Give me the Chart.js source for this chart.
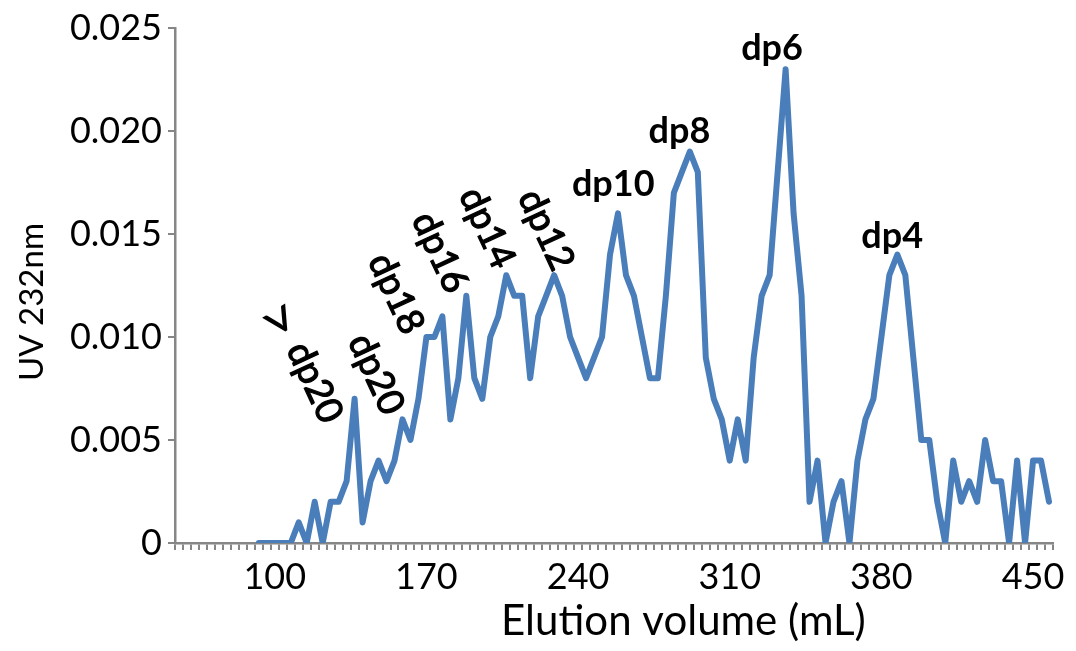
<!DOCTYPE html>
<html>
<head>
<meta charset="utf-8">
<script src="https://cdn.jsdelivr.net/npm/chart.js@4.4.1/dist/chart.umd.min.js"></script>
<style>
  html, body { margin: 0; padding: 0; background: #fff; }
  #wrap { width: 1076px; height: 651px; position: relative; }
</style>
</head>
<body>
<div id="wrap"><canvas id="uvChart"></canvas></div>
<script>
// x axis: 110 fractions, a label every 19 fractions
const fractionCount = 110;
const xTickText = ['100', '170', '240', '310', '380', '450'];
const xTickIndex = [12, 31, 50, 69, 88, 107];

// UV 232nm per fraction (first 10 fractions empty)
const uv232 = [
  null, null, null, null, null, null, null, null, null, null,
  0, 0, 0, 0, 0, 0.001, 0, 0.002, 0, 0.002,
  0.002, 0.003, 0.007, 0.001, 0.003, 0.004, 0.003, 0.004, 0.006, 0.005,
  0.007, 0.010, 0.010, 0.011, 0.006, 0.008, 0.012, 0.008, 0.007, 0.010,
  0.011, 0.013, 0.012, 0.012, 0.008, 0.011, 0.012, 0.013, 0.012, 0.010,
  0.009, 0.008, 0.009, 0.010, 0.014, 0.016, 0.013, 0.012, 0.010, 0.008,
  0.008, 0.012, 0.017, 0.018, 0.019, 0.018, 0.009, 0.007, 0.006, 0.004,
  0.006, 0.004, 0.009, 0.012, 0.013, 0.018, 0.023, 0.016, 0.012, 0.002,
  0.004, 0, 0.002, 0.003, 0, 0.004, 0.006, 0.007, 0.010, 0.013,
  0.014, 0.013, 0.009, 0.005, 0.005, 0.002, 0, 0.004, 0.002, 0.003,
  0.002, 0.005, 0.003, 0.003, 0, 0.004, 0, 0.004, 0.004, 0.002
];

const yTicks = [0, 0.005, 0.010, 0.015, 0.020, 0.025];

// peak labels
const peakText = ['>', 'dp20', 'dp20', 'dp18', 'dp16', 'dp14', 'dp12', 'dp10', 'dp8', 'dp6', 'dp4'];
const peakAt = [
  [12.5, 0.0108], [17.0, 0.0078], [24.7, 0.0082], [27.2, 0.0121], [32.7, 0.0141],
  [38.6, 0.0153], [46.0, 0.0152], [54.4, 0.0174], [62.7, 0.0200], [74.3, 0.0240], [89.35, 0.0149]
];
const peakAngle = [58, 65, 65, 65, 65, 65, 65, 0, 0, 0, 0];

const categories = [];
for (let i = 0; i < fractionCount; i++) {
  const k = xTickIndex.indexOf(i);
  categories.push(k >= 0 ? xTickText[k] : '');
}

const FONT = 'Lato, "Liberation Sans", sans-serif';
Chart.defaults.font.family = FONT;
Chart.defaults.color = '#000';

const axisGrey = '#868686';

const labelPlugin = {
  id: 'peakLabels',
  afterDatasetsDraw(chart) {
    const { ctx, scales: { x, y }, chartArea } = chart;
    ctx.save();
    ctx.fillStyle = '#000';
    ctx.strokeStyle = '#000';
    ctx.textAlign = 'center';
    ctx.textBaseline = 'middle';
    peakText.forEach((t, i) => {
      const px = x.getPixelForValue(peakAt[i][0]);
      const py = y.getPixelForValue(peakAt[i][1]);
      ctx.save();
      ctx.translate(px, py);
      ctx.rotate(peakAngle[i] * Math.PI / 180);
      if (t === '>') {
        ctx.font = 'normal 62px ' + FONT;
        ctx.fillText(t, 0, 0);
      } else if (peakAngle[i] !== 0) {
        // rotated labels: regular weight, slightly thickened
        ctx.font = 'normal 37px ' + FONT;
        ctx.lineWidth = 1.2;
        ctx.fillText(t, 0, 0);
        ctx.strokeText(t, 0, 0);
      } else {
        ctx.font = 'bold 36px ' + FONT;
        ctx.fillText(t, 0, 0);
      }
      ctx.restore();
    });

    // axis titles
    ctx.font = 'normal 42px ' + FONT;
    ctx.fillText('Elution volume (mL)', x.getPixelForValue(63.2), chartArea.bottom + 78);
    ctx.save();
    ctx.translate(chartArea.left - 143, y.getPixelForValue(0.0117));
    ctx.rotate(-Math.PI / 2);
    ctx.font = 'normal 33px ' + FONT;
    ctx.fillText('UV 232nm', 0, 0);
    ctx.restore();
    ctx.restore();
  }
};

new Chart(document.getElementById('uvChart'), {
  type: 'line',
  data: {
    labels: categories,
    datasets: [{
      label: 'UV 232nm',
      data: uv232,
      borderColor: '#4a7ebb',
      borderWidth: 6,
      borderJoinStyle: 'round',
      borderCapStyle: 'round',
      pointRadius: 0,
      tension: 0,
      fill: false
    }]
  },
  options: {
    responsive: true,
    maintainAspectRatio: false,
    animation: false,
    layout: { padding: { top: 28, right: 23, left: 0, bottom: 0 } },
    plugins: {
      legend: { display: false },
      tooltip: { enabled: false }
    },
    scales: {
      x: {
        type: 'category',
        offset: true,
        grid: { offset: true, drawOnChartArea: false, drawTicks: true, tickLength: 7, color: axisGrey, lineWidth: 2 },
        border: { display: true, color: axisGrey, width: 2.5 },
        ticks: {
          autoSkip: false, maxRotation: 0, minRotation: 0, padding: 6,
          font: { size: 36 },
          callback(v) { return this.getLabelForValue(v); }
        },
        afterFit(s) { s.height = 108; }
      },
      y: {
        min: 0,
        max: 0.025,
        afterBuildTicks(s) { s.ticks = yTicks.map(v => ({ value: v })); },
        grid: { drawOnChartArea: false, drawTicks: true, tickLength: 7, color: axisGrey, lineWidth: 2 },
        border: { display: true, color: axisGrey, width: 2.5 },
        ticks: {
          padding: 6,
          font: { size: 36 },
          callback: v => v === 0 ? '0' : v.toFixed(3)
        },
        afterFit(s) { s.width = 175; }
      }
    }
  },
  plugins: [labelPlugin]
});
</script>
</body>
</html>
